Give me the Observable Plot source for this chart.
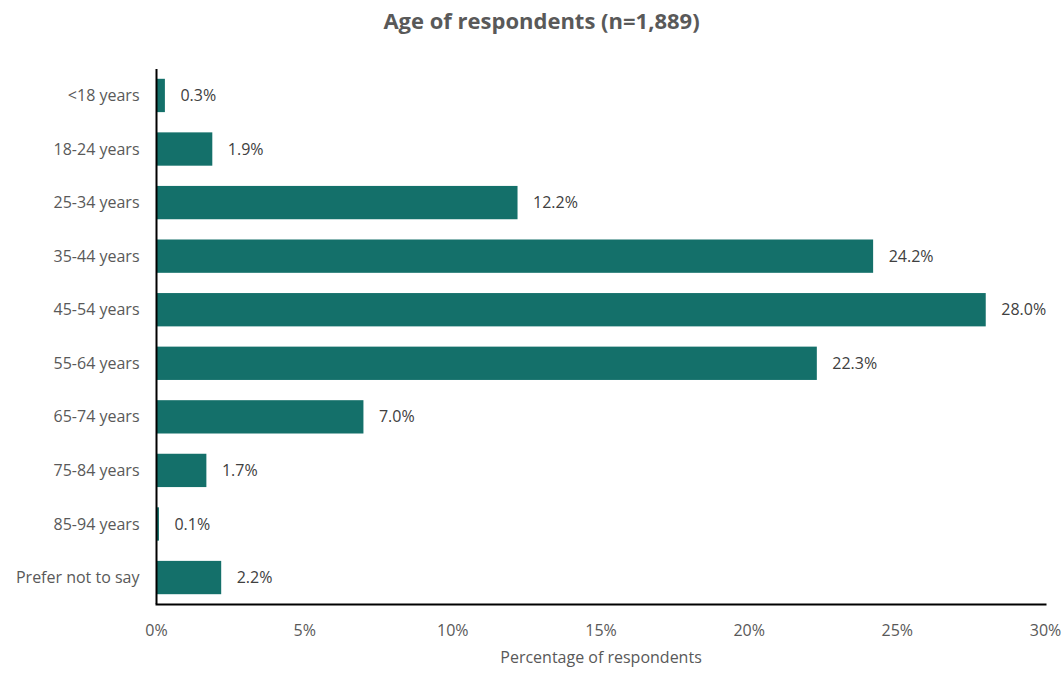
<!DOCTYPE html>
<html><head><meta charset="utf-8">
<script src="https://cdn.jsdelivr.net/npm/d3@7"></script>
<script src="https://cdn.jsdelivr.net/npm/@observablehq/plot@0.6"></script>
<style>
body{margin:0;background:#fff;font-family:"Open Sans",sans-serif;}
#title{height:50px;overflow:hidden;line-height:40px;text-align:center;font-size:22px;font-weight:bold;color:#595959;padding-left:20px;}
#chart svg{display:block;}
</style></head>
<body>
<div id="title">Age of respondents (n=1,889)</div>
<div id="chart"></div>
<script>
const categories = ["<18 years","18-24 years","25-34 years","35-44 years","45-54 years","55-64 years","65-74 years","75-84 years","85-94 years","Prefer not to say"];
const values = [0.3,1.9,12.2,24.2,28.0,22.3,7.0,1.7,0.1,2.2];
const xTicks = [0,5,10,15,20,25,30];
const data = categories.map((c,i)=>({category:c,value:values[i]}));
const plot = Plot.plot({
  width:1063, height:625,
  marginLeft:156, marginRight:18, marginTop:19, marginBottom:71,
  style:{fontFamily:"Open Sans, sans-serif", fontSize:"16px", color:"#595959", background:"#fff"},
  x:{domain:[0,30], ticks:xTicks, tickFormat:d=>d+"%", tickSize:0, tickPadding:20, label:"Percentage of respondents", labelAnchor:"center", labelOffset:58, labelArrow:"none"},
  y:{domain:categories, paddingInner:0.378, paddingOuter:0.183, round:false, tickSize:0, tickPadding:17, label:null},
  marks:[
    Plot.barX(data,{x:"value",y:"category",fill:"#14706a"}),
    Plot.text(data,{x:"value",y:"category",text:d=>d.value.toFixed(1)+"%",textAnchor:"start",dx:15,fill:"#404040",fontSize:16}),
    Plot.ruleX([0],{stroke:"#000",strokeWidth:2}),
    Plot.frame({anchor:"bottom",stroke:"#000",strokeWidth:2})
  ]
});
document.getElementById("chart").appendChild(plot);
</script>
</body></html>
